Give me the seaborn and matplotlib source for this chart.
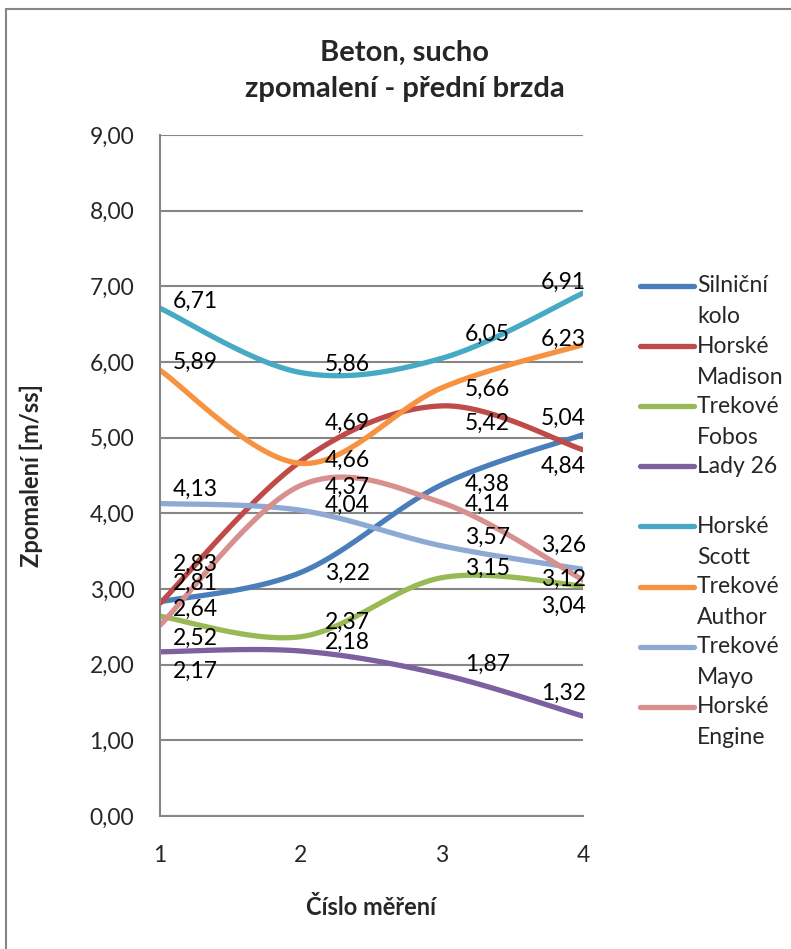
import numpy as np
import pandas as pd
import matplotlib
matplotlib.use("Agg")
import matplotlib.pyplot as plt
import seaborn as sns
from matplotlib.lines import Line2D
from matplotlib.patches import Rectangle

# Data
measurements = [1, 2, 3, 4]
series_names = ["Silniční kolo", "Horské Madison", "Trekové Fobos", "Lady 26",
                "Horské Scott", "Trekové Author", "Trekové Mayo", "Horské Engine"]
silnicni_kolo = [2.83, 3.22, 4.38, 5.04]
horske_madison = [2.81, 4.69, 5.42, 4.84]
trekove_fobos = [2.64, 2.37, 3.15, 3.04]
lady_26 = [2.17, 2.18, 1.87, 1.32]
horske_scott = [6.71, 5.86, 6.05, 6.91]
trekove_author = [5.89, 4.66, 5.66, 6.23]
trekove_mayo = [4.13, 4.04, 3.57, 3.26]
horske_engine = [2.52, 4.37, 4.14, 3.12]
all_values = [silnicni_kolo, horske_madison, trekove_fobos, lady_26,
              horske_scott, trekove_author, trekove_mayo, horske_engine]
y_ticks = [0, 1, 2, 3, 4, 5, 6, 7, 8, 9]

colors = ["#4A7EBB", "#BE4B48", "#98B954", "#7D60A0",
          "#46AAC5", "#F69240", "#8EA9D4", "#D8908E"]

# label placement (pixels): horizontal shift per measurement, vertical per label
label_dx = [13, 24, 23, -42]
label_dy = [
    [-38, 1, 0, -16],
    [-20, -38, 17, 17],
    [-7, -14, -9, 20],
    [20, -9, -10, -23],
    [-7, -8, -24, -11],
    [-8, -3, 2, -5],
    [-14, -5, -9, -24],
    [13, 2, 2, -1],
]


def smooth(xs, ys, n=40):
    # Excel-like smoothed line (Catmull-Rom bezier)
    pts = np.column_stack([xs, ys]).astype(float)
    out = []
    for i in range(len(pts) - 1):
        p0 = pts[max(i - 1, 0)]
        p1 = pts[i]
        p2 = pts[i + 1]
        p3 = pts[min(i + 2, len(pts) - 1)]
        c1 = p1 + (p2 - p0) / 6
        c2 = p2 - (p3 - p1) / 6
        t = np.linspace(0, 1, n)[:, None]
        seg = ((1 - t) ** 3) * p1 + 3 * ((1 - t) ** 2) * t * c1 + 3 * (1 - t) * t ** 2 * c2 + t ** 3 * p2
        if i > 0:
            seg = seg[1:]
        out.append(seg)
    return np.vstack(out)


rows = []
for name, vals in zip(series_names, all_values):
    curve = smooth(measurements, vals)
    for k, (cx, cy) in enumerate(curve):
        rows.append({"x": cx, "y": cy, "series": name, "order": k})
df = pd.DataFrame(rows)

sns.set_style("white")
plt.rcParams["font.family"] = ["Lato", "DejaVu Sans"]

fs = 16.5
fig = plt.figure(figsize=(7.91, 9.49), dpi=100)
W, H = 791, 949
ax = fig.add_axes([160 / W, 1 - 816 / H, (583 - 160) / W, (816 - 135) / H])

sns.lineplot(data=df, x="x", y="y", hue="series", hue_order=series_names,
             palette=colors, sort=False, estimator=None, legend=False,
             linewidth=3.8, solid_capstyle="round", ax=ax)

# data labels
for i, vals in enumerate(all_values):
    for j, (xv, yv) in enumerate(zip(measurements, vals)):
        ax.annotate(f"{yv:.2f}".replace(".", ","), xy=(xv, yv),
                    xytext=(label_dx[j], -label_dy[i][j]), textcoords="offset pixels",
                    ha="left", va="center", fontsize=fs, color="black")

ax.set_xlim(1, 4)
ax.set_ylim(0, 9)
ax.set_xticks(measurements)
ax.set_xticklabels([str(m) for m in measurements], fontsize=fs)
ax.set_yticks(y_ticks)
ax.set_yticklabels([f"{v:.2f}".replace(".", ",") for v in y_ticks], fontsize=fs)
ax.yaxis.grid(True, color="#868686", linewidth=1.5)
ax.xaxis.grid(False)
for s in ["top", "right"]:
    ax.spines[s].set_visible(False)
for s in ["left", "bottom"]:
    ax.spines[s].set_color("#868686")
    ax.spines[s].set_linewidth(1.5)
ax.tick_params(axis="y", length=0, pad=18.5)
ax.tick_params(axis="x", direction="inout", length=12, width=1.5, color="#868686", pad=15)
ax.set_xlabel("Číslo měření", fontsize=17, fontweight="bold")
ax.set_ylabel("Zpomalení [m/ss]", fontsize=17, fontweight="bold")
ax.xaxis.set_label_coords(0.5, -(907 - 816) / 681)
ax.xaxis.label.set_va("center")
ax.yaxis.set_label_coords((31 - 160) / 423, 0.5)
ax.yaxis.label.set_va("center")
ax.set_facecolor("white")

fig.text(405 / W, 1 - 53 / H, "Beton, sucho", ha="center", va="center",
         fontsize=21, fontweight="bold")
fig.text(405 / W, 1 - 89 / H, "zpomalení - přední brzda", ha="center", va="center",
         fontsize=21, fontweight="bold")

# legend, drawn by hand to keep the wrapped labels
for i, name in enumerate(series_names):
    y0 = 286 + 60.1 * i
    fig.add_artist(Line2D([640 / W, 694 / W], [1 - y0 / H, 1 - y0 / H],
                          color=colors[i], linewidth=3.8, solid_capstyle="round"))
    parts = name.split(" ") if name != "Lady 26" else [name]
    for k, part in enumerate(parts):
        fig.text(697 / W, 1 - (y0 + 31 * k) / H, part, ha="left", va="center",
                 fontsize=fs)

# chart border
fig.add_artist(Rectangle((6 / W, -0.02), 1.1, 1 - 9 / H + 0.02, transform=fig.transFigure,
                         fill=False, edgecolor="#868686", linewidth=1.5))

fig.savefig("out.png", dpi=100)
